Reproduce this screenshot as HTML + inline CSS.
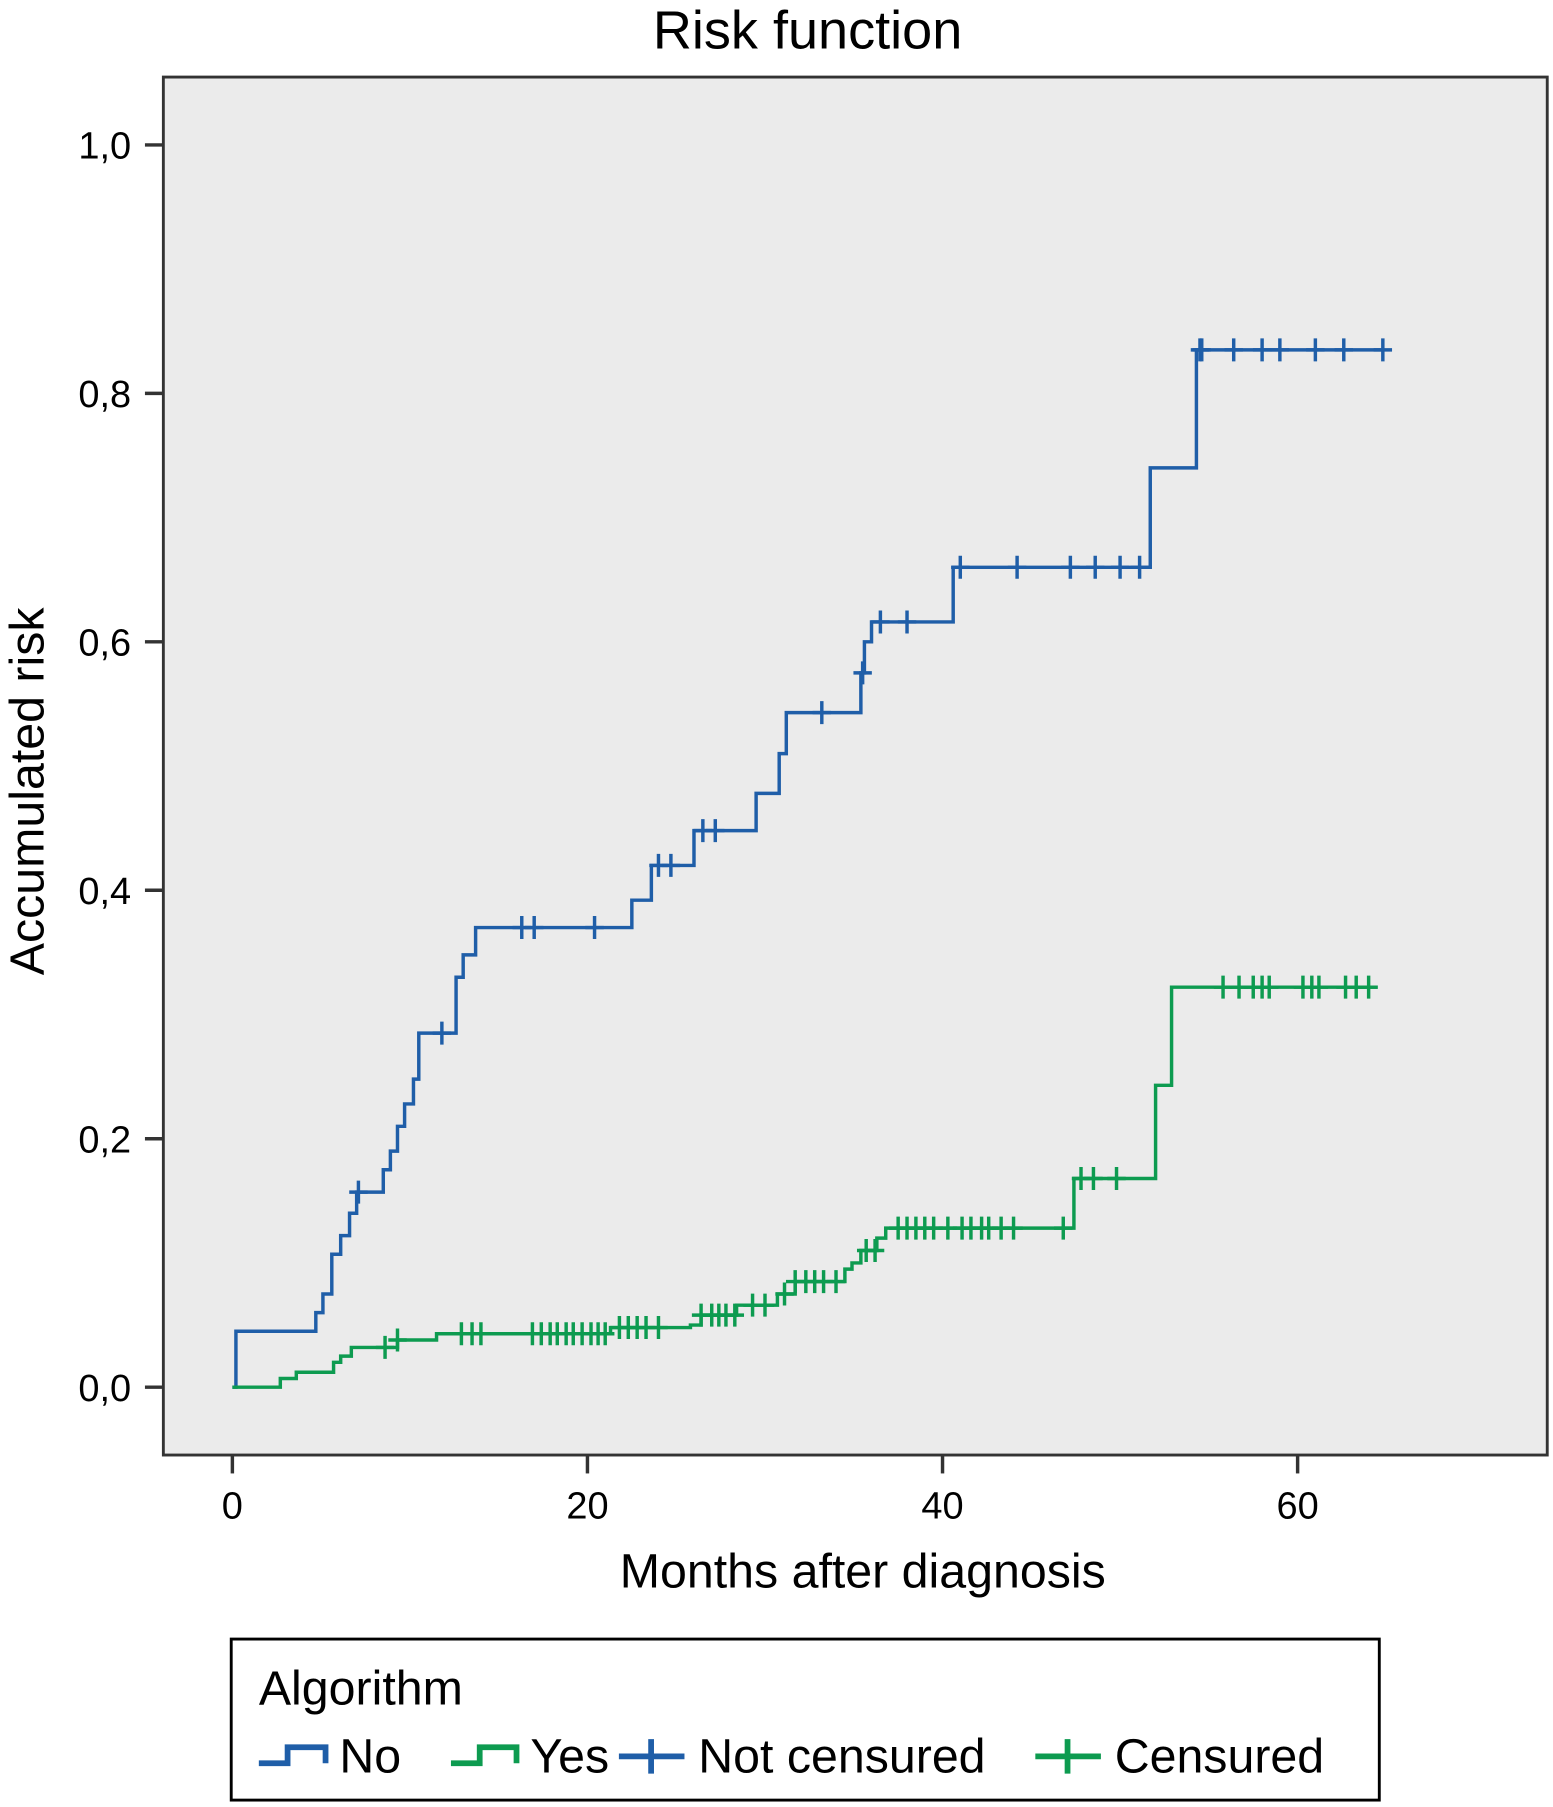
<!DOCTYPE html>
<html><head><meta charset="utf-8"><style>
html,body{margin:0;padding:0;background:#fff;}
svg{display:block;font-family:"Liberation Sans",Arial,sans-serif;}
</style></head><body>
<svg id="chart" width="1553" height="1807" viewBox="0 0 1350 1571" preserveAspectRatio="none" xmlns="http://www.w3.org/2000/svg">
<text x="702" y="42" font-size="47" text-anchor="middle" fill="#000">Risk function</text>
<rect x="142" y="67" width="1203" height="1198" fill="#ebebeb" stroke="#333" stroke-width="2.5"/>
<g id="axes"></g>
<g id="series"></g>
<text transform="translate(38,688) rotate(-90)" font-size="42" text-anchor="middle" fill="#000">Accumulated risk</text>
<text x="750" y="1380" font-size="42" text-anchor="middle" fill="#000">Months after diagnosis</text>
<g>
<rect x="201" y="1425" width="998" height="140" fill="#fff" stroke="#000" stroke-width="2.5"/>
<text x="225" y="1482" font-size="42" fill="#000">Algorithm</text>
<g><path d="M225 1533 H250 V1519 H283 V1533" fill="none" stroke="#1f5ea8" stroke-width="5"/><text x="295" y="1541" font-size="42">No</text></g>
<g><path d="M392 1533 H417 V1519 H449 V1533" fill="none" stroke="#0d9b50" stroke-width="5"/><text x="461" y="1541" font-size="42">Yes</text></g>
<g><path d="M538 1527 H595 M566 1512 V1542" stroke="#1f5ea8" stroke-width="5"/><text x="607" y="1541" font-size="42">Not censured</text></g>
<g><path d="M900 1527 H957 M928 1512 V1542" stroke="#0d9b50" stroke-width="5"/><text x="969" y="1541" font-size="42">Censured</text></g>
</g>
</svg>
<script>
const xTicks=[0,20,40,60];
const yTicks=[0,0.2,0.4,0.6,0.8,1.0];
const yTickLabels=["0,0","0,2","0,4","0,6","0,8","1,0"];
const noTimes=[0,0.2,4.7,5.1,5.6,6.1,6.6,7,8.5,8.9,9.3,9.7,10.2,10.5,12.6,13,13.7,22.5,23.6,26,29.5,30.8,31.2,35.4,35.6,36,40.6,51.7,54.3,64.9];
const noValues=[0,0.045,0.06,0.075,0.107,0.122,0.14,0.157,0.175,0.19,0.21,0.228,0.248,0.285,0.33,0.348,0.37,0.392,0.42,0.448,0.478,0.51,0.543,0.575,0.6,0.616,0.66,0.74,0.835,0.835];
const noCensored=[7.1,11.8,16.3,17,20.4,24,24.7,26.5,27.2,33.2,35.5,36.5,38,41,44.2,47.2,48.6,50,51.1,54.5,54.6,56.4,58,59,61,62.6,64.8];
const yesTimes=[0,2.7,3.6,5.7,6.1,6.7,9.3,11.5,21.3,25.8,26.4,28.4,30.7,31.7,34.5,34.9,35.4,36.3,36.8,47.4,52,52.9,64.5];
const yesValues=[0,0.007,0.012,0.02,0.025,0.032,0.038,0.043,0.048,0.05,0.058,0.066,0.075,0.085,0.095,0.1,0.11,0.12,0.128,0.168,0.243,0.322,0.322];
const yesCensored=[8.6,9.3,12.9,13.5,14,16.9,17.4,17.9,18.3,18.8,19.2,19.7,20.2,20.6,21,21.8,22.3,22.8,23.3,24,26.4,27,27.4,27.8,28.3,29.3,30,31.1,31.7,32.3,32.8,33.3,34,35.7,36.2,37.5,38,38.5,39,39.5,40.3,41.1,41.6,42.2,42.6,43.3,44,46.8,47.8,48.5,49.8,55.8,56.7,57.5,58,58.4,60.3,60.8,61.2,62.7,63.3,64];

const NS="http://www.w3.org/2000/svg";
function xs(m){return 202+m*(1128-202)/60;}
function ys(v){return 1206-v*1080;}
function mk(tag,attrs,parent){const e=document.createElementNS(NS,tag);for(const k in attrs)e.setAttribute(k,attrs[k]);parent.appendChild(e);return e;}
const axes=document.getElementById('axes');
xTicks.forEach(t=>{
  const l=mk('line',{x1:xs(t),x2:xs(t),y1:1265,y2:1281,stroke:'#333','stroke-width':3},axes);
  
  
  const tx=mk('text',{x:xs(t),y:1320,'font-size':33,'text-anchor':'middle'},axes);
  tx.textContent=t;
  
  
});
yTicks.forEach((t,i)=>{
  const l=mk('line',{x1:126,x2:142,y1:ys(t),y2:ys(t),stroke:'#333','stroke-width':3},axes);
  
  
  const tx=mk('text',{x:114,y:ys(t)+12,'font-size':33,'text-anchor':'end'},axes);
  tx.textContent=yTickLabels[i];
  
  
});
function valAt(times,vals,t){let v=vals[0];for(let i=0;i<times.length;i++){if(times[i]<=t)v=vals[i];}return v;}
const series=document.getElementById('series');
function drawSeries(times,vals,cens,color,name){
  let d='M'+xs(times[0])+' '+ys(vals[0]);
  for(let i=1;i<times.length;i++){d+=' H'+xs(times[i])+' V'+ys(vals[i]);}
  const p=mk('path',{d:d,fill:'none',stroke:color,'stroke-width':3},series);
  
  
  cens.forEach(t=>{
    const x=xs(t),y=ys(valAt(times,vals,t));
    const c=mk('path',{d:'M'+(x-8)+' '+y+' H'+(x+8)+' M'+x+' '+(y-10)+' V'+(y+10),stroke:color,'stroke-width':3},series);
    
    
  });
}
drawSeries(noTimes,noValues,noCensored,'#1f5ea8','no');
drawSeries(yesTimes,yesValues,yesCensored,'#0d9b50','yes');
</script>
</body></html>
